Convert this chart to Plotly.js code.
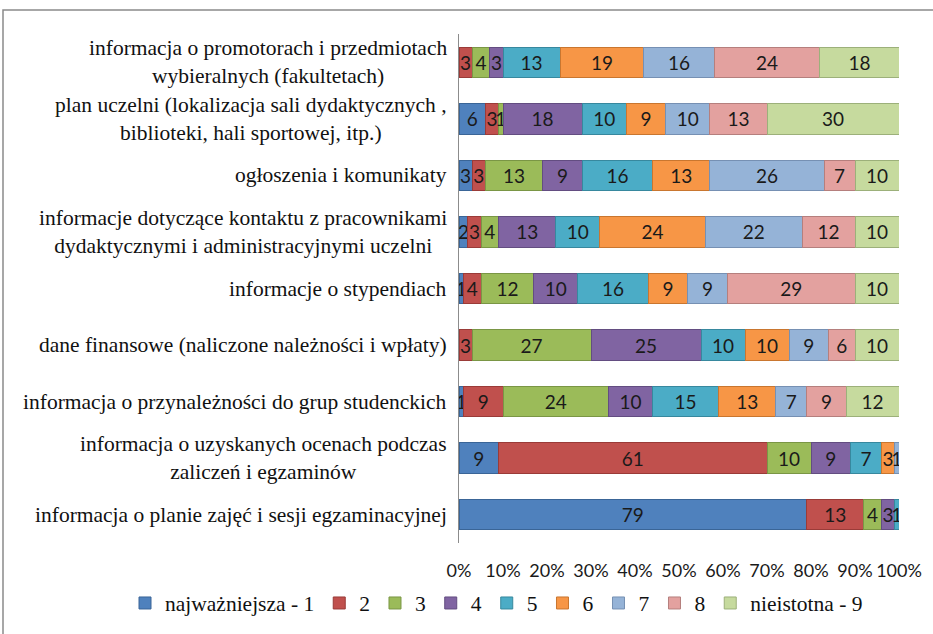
<!DOCTYPE html>
<html>
<head>
<meta charset="utf-8">
<script src="https://cdn.plot.ly/plotly-3.0.1.min.js"></script>
<style>
html,body{margin:0;padding:0;background:#fff;}
#chart{width:933px;height:634px;}
</style>
</head>
<body>
<div id="chart"></div>
<script>
const categories = [
  "informacja o promotorach i przedmiotach<br>wybieralnych (fakultetach)",
  "plan uczelni (lokalizacja sali dydaktycznych ,<br>biblioteki, hali sportowej, itp.)",
  "ogłoszenia i komunikaty",
  "informacje dotyczące kontaktu z pracownikami<br>dydaktycznymi i administracyjnymi uczelni",
  "informacje o stypendiach",
  "dane finansowe (naliczone należności i wpłaty)",
  "informacja o przynależności do grup studenckich",
  "informacja o uzyskanych ocenach podczas<br>zaliczeń i egzaminów",
  "informacja o planie zajęć i sesji egzaminacyjnej"
];
const seriesNames = ["najważniejsza - 1","2","3","4","5","6","7","8","nieistotna - 9"];
const s1 = [0, 6, 3, 2, 1, 0, 1, 9, 79];
const s2 = [3, 3, 3, 3, 4, 3, 9, 61, 13];
const s3 = [4, 1, 13, 4, 12, 27, 24, 10, 4];
const s4 = [3, 18, 9, 13, 10, 25, 10, 9, 3];
const s5 = [13, 10, 16, 10, 16, 10, 15, 7, 1];
const s6 = [19, 9, 13, 24, 9, 10, 13, 3, 0];
const s7 = [16, 10, 26, 22, 9, 9, 7, 1, 0];
const s8 = [24, 13, 7, 12, 29, 6, 9, 0, 0];
const s9 = [18, 30, 10, 10, 10, 10, 12, 0, 0];
const tickVals = [0,10,20,30,40,50,60,70,80,90,100];
const tickText = ["0%","10%","20%","30%","40%","50%","60%","70%","80%","90%","100%"];

const seriesValues = [s1,s2,s3,s4,s5,s6,s7,s8,s9];
const colors = ["#4F81BD","#C0504D","#9BBB59","#8064A2","#4BACC6","#F79646","#95B3D7","#E3A19F","#C6DA9E"];
const lineColors = ["#3A6597","#9A3B38","#7A9645","#634D81","#37889E","#C9762F","#7690B3","#B57F7D","#9CB07A"];
const serif = "Liberation Serif, Times New Roman, serif";
const sans = "Lato, Open Sans, sans-serif";

const traces = seriesValues.map((vals, i) => ({
  type: "bar",
  orientation: "h",
  name: seriesNames[i],
  y: categories,
  x: vals,
  text: vals.map(String),
  textposition: "inside",
  insidetextanchor: "middle",
  constraintext: "none",
  textfont: {family: sans, size: 19, color: "#1a1a1a"},
  marker: {color: colors[i], line: {color: lineColors[i], width: 1}},
  hoverinfo: "x+name"
}));

const annotations = categories.map(c => ({
  xref: "paper", yref: "y", x: 0, y: c,
  xanchor: "right", yanchor: "middle", xshift: -10,
  align: "center", showarrow: false, text: c,
  font: {family: serif, size: 21.5, color: "#111"}
}));

const layout = {
  width: 933, height: 634,
  margin: {l: 459, r: 34, t: 34, b: 90},
  barmode: "stack",
  bargap: 0.46,
  paper_bgcolor: "#fff",
  plot_bgcolor: "#fff",
  showlegend: true,
  legend: {
    orientation: "h",
    x: (125 - 459) / 440, xanchor: "left", y: (544 - 603) / 510, yanchor: "middle",
    traceorder: "normal",
    font: {family: serif, size: 21.5, color: "#111"},
    itemwidth: 30, tracegroupgap: 0, bgcolor: "rgba(0,0,0,0)"
  },
  xaxis: {
    range: [0, 100], tickvals: tickVals, ticktext: tickText,
    showgrid: false, zeroline: false, showline: false,
    ticks: "", ticklabelstandoff: 15,
    tickfont: {family: sans, size: 18, color: "#1a1a1a"}
  },
  yaxis: {
    autorange: "reversed", showticklabels: false, ticks: "",
    showline: true, linecolor: "#8c8c8c", linewidth: 1, showgrid: false
  },
  annotations: annotations,
  shapes: [{
    type: "rect", xref: "paper", yref: "paper",
    x0: (3 - 459) / 440, x1: (940 - 459) / 440,
    y0: (544 - 645) / 510, y1: (544 - 10) / 510,
    line: {color: "#8a8a8a", width: 1.5}, fillcolor: "rgba(0,0,0,0)"
  }]
};

Plotly.newPlot("chart", traces, layout, {displayModeBar: false, staticPlot: true});
</script>
</body>
</html>
